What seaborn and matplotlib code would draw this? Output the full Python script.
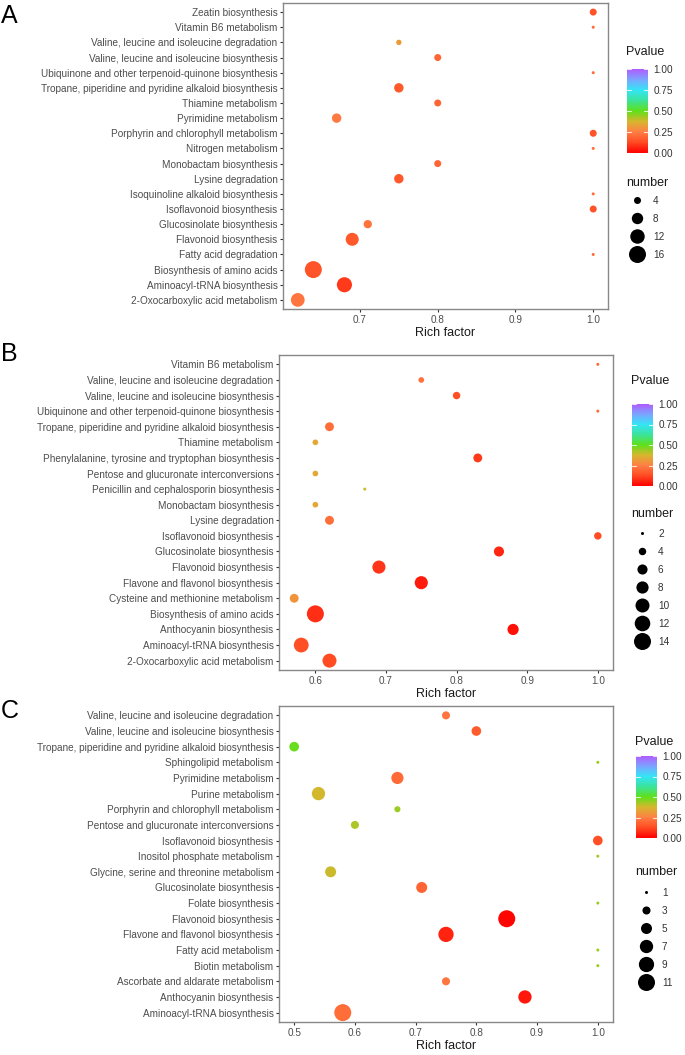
import numpy as np
import pandas as pd
import seaborn as sns
import matplotlib.pyplot as plt
from matplotlib.colors import LinearSegmentedColormap, Normalize
from matplotlib.cm import ScalarMappable
from matplotlib.lines import Line2D
from matplotlib.ticker import MultipleLocator, FormatStrFormatter

# ---- panel A (alphabetical = bottom to top) ----
a_path = ['2-Oxocarboxylic acid metabolism', 'Aminoacyl-tRNA biosynthesis',
          'Biosynthesis of amino acids', 'Fatty acid degradation',
          'Flavonoid biosynthesis', 'Glucosinolate biosynthesis',
          'Isoflavonoid biosynthesis', 'Isoquinoline alkaloid biosynthesis',
          'Lysine degradation', 'Monobactam biosynthesis', 'Nitrogen metabolism',
          'Porphyrin and chlorophyll metabolism', 'Pyrimidine metabolism',
          'Thiamine metabolism', 'Tropane, piperidine and pyridine alkaloid biosynthesis',
          'Ubiquinone and other terpenoid-quinone biosynthesis',
          'Valine, leucine and isoleucine biosynthesis',
          'Valine, leucine and isoleucine degradation', 'Vitamin B6 metabolism',
          'Zeatin biosynthesis']
a_rich = [0.62, 0.68, 0.64, 1.0, 0.69, 0.71, 1.0, 1.0, 0.75, 0.80,
          1.0, 1.0, 0.67, 0.80, 0.75, 1.0, 0.80, 0.75, 1.0, 1.0]
a_num = [11, 13, 16, 2, 10, 5, 4, 2, 6, 4, 2, 4, 6, 4, 6, 2, 4, 3, 2, 4]
a_pval = [0.23, 0.10, 0.15, 0.20, 0.16, 0.22, 0.15, 0.20, 0.16, 0.19,
          0.20, 0.15, 0.24, 0.19, 0.16, 0.20, 0.19, 0.31, 0.20, 0.15]
a_breaks = [4, 8, 12, 16]

# ---- panel B ----
b_path = ['2-Oxocarboxylic acid metabolism', 'Aminoacyl-tRNA biosynthesis',
          'Anthocyanin biosynthesis', 'Biosynthesis of amino acids',
          'Cysteine and methionine metabolism', 'Flavone and flavonol biosynthesis',
          'Flavonoid biosynthesis', 'Glucosinolate biosynthesis',
          'Isoflavonoid biosynthesis', 'Lysine degradation', 'Monobactam biosynthesis',
          'Penicillin and cephalosporin biosynthesis',
          'Pentose and glucuronate interconversions',
          'Phenylalanine, tyrosine and tryptophan biosynthesis', 'Thiamine metabolism',
          'Tropane, piperidine and pyridine alkaloid biosynthesis',
          'Ubiquinone and other terpenoid-quinone biosynthesis',
          'Valine, leucine and isoleucine biosynthesis',
          'Valine, leucine and isoleucine degradation', 'Vitamin B6 metabolism']
b_rich = [0.62, 0.58, 0.88, 0.60, 0.57, 0.75, 0.69, 0.86, 1.0, 0.62,
          0.60, 0.67, 0.60, 0.83, 0.60, 0.62, 1.0, 0.80, 0.75, 1.0]
b_num = [10, 11, 7, 14, 5, 9, 9, 6, 4, 5, 3, 2, 3, 5, 3, 5, 2, 4, 3, 2]
b_pval = [0.13, 0.14, 0.03, 0.08, 0.30, 0.05, 0.09, 0.07, 0.13, 0.21,
          0.34, 0.38, 0.34, 0.10, 0.34, 0.21, 0.20, 0.14, 0.22, 0.20]
b_breaks = [2, 4, 6, 8, 10, 12, 14]

# ---- panel C ----
c_path = ['Aminoacyl-tRNA biosynthesis', 'Anthocyanin biosynthesis',
          'Ascorbate and aldarate metabolism', 'Biotin metabolism',
          'Fatty acid metabolism', 'Flavone and flavonol biosynthesis',
          'Flavonoid biosynthesis', 'Folate biosynthesis', 'Glucosinolate biosynthesis',
          'Glycine, serine and threonine metabolism', 'Inositol phosphate metabolism',
          'Isoflavonoid biosynthesis', 'Pentose and glucuronate interconversions',
          'Porphyrin and chlorophyll metabolism', 'Purine metabolism',
          'Pyrimidine metabolism', 'Sphingolipid metabolism',
          'Tropane, piperidine and pyridine alkaloid biosynthesis',
          'Valine, leucine and isoleucine biosynthesis',
          'Valine, leucine and isoleucine degradation']
c_rich = [0.58, 0.88, 0.75, 1.0, 1.0, 0.75, 0.85, 1.0, 0.71, 0.56,
          1.0, 1.0, 0.60, 0.67, 0.54, 0.67, 1.0, 0.50, 0.80, 0.75]
c_num = [11, 7, 3, 1, 1, 9, 11, 1, 5, 5, 1, 4, 3, 2, 7, 6, 1, 4, 4, 3]
c_pval = [0.21, 0.04, 0.23, 0.44, 0.44, 0.06, 0.01, 0.44, 0.19, 0.39,
          0.44, 0.14, 0.42, 0.44, 0.38, 0.20, 0.44, 0.49, 0.17, 0.23]
c_breaks = [1, 3, 5, 7, 9, 11]

pv_ticks = [0.0, 0.25, 0.5, 0.75, 1.0]

sns.set_theme(style="white")
plt.rcParams['font.family'] = ['Liberation Sans', 'DejaVu Sans']

cmap = LinearSegmentedColormap.from_list(
    'pv', [(0, '#FF0000'), (0.125, '#FF4A22'), (0.25, '#FF7F45'), (0.375, '#D8B62E'),
           (0.5, '#5FE01A'), (0.625, '#3BE39A'), (0.75, '#33E5F5'),
           (0.875, '#7AA6FF'), (1, '#B05CFF')])
norm = Normalize(0, 1)

W, H = 685, 1055
SMIN, SMAX = (3 * 0.72) ** 2, (17 * 0.72) ** 2

fig = plt.figure(figsize=(W / 100, H / 100), dpi=100)


def fx(px):
    return px / W


def fy(py):
    return 1 - py / H


# axes box (left, right, top, bottom px), legend anchors
panels = [
    dict(letter='A', path=a_path, rich=a_rich, num=a_num, pval=a_pval, breaks=a_breaks,
         box=(283, 608, 3, 309), bar=(627, 69, 153), title_y=52, num_y=183, first_y=202,
         letter_y=16),
    dict(letter='B', path=b_path, rich=b_rich, num=b_num, pval=b_pval, breaks=b_breaks,
         box=(279, 613, 355, 670), bar=(632, 404, 486), title_y=381, num_y=514, first_y=535,
         letter_y=354),
    dict(letter='C', path=c_path, rich=c_rich, num=c_num, pval=c_pval, breaks=c_breaks,
         box=(279, 613, 706, 1022), bar=(636, 756, 838), title_y=742, num_y=872, first_y=894,
         letter_y=711),
]

for p in panels:
    l, r, t, b = p['box']
    ax = fig.add_axes([fx(l), fy(b), fx(r - l), (b - t) / H])
    df = pd.DataFrame({'Pathway': p['path'], 'Rich factor': p['rich'],
                       'number': p['num'], 'Pvalue': p['pval']})
    lo, hi = min(p['num']), max(p['num'])
    sns.scatterplot(data=df, x='Rich factor', y='Pathway', hue='Pvalue', size='number',
                    palette=cmap, hue_norm=norm, sizes=(SMIN, SMAX), size_norm=(lo, hi),
                    linewidth=0, edgecolor='none', legend=False, ax=ax, zorder=3)
    xr = max(p['rich']) - min(p['rich'])
    ax.set_xlim(min(p['rich']) - 0.05 * xr, max(p['rich']) + 0.05 * xr)
    ax.set_ylim(-0.6, len(p['path']) - 0.4)
    ax.xaxis.set_major_locator(MultipleLocator(0.1))
    ax.xaxis.set_major_formatter(FormatStrFormatter('%.1f'))
    ax.set_ylabel('')
    ax.set_xlabel('Rich factor', fontsize=9, color='#1A1A1A', labelpad=1.5)
    ax.tick_params(axis='both', length=2.5, width=0.8, color='#333333',
                   labelsize=7.2, labelcolor='#4D4D4D', pad=1.5,
                   bottom=True, left=True)
    for s in ax.spines.values():
        s.set_color('#888888')
        s.set_linewidth(1.0)

    fig.text(fx(1), fy(p['letter_y']), p['letter'], fontsize=18, ha='left',
             va='center', color='black')

    # colour bar legend
    bx, btop, bbot = p['bar']
    cax = fig.add_axes([fx(bx), fy(bbot), fx(21), (bbot - btop) / H])
    cb = fig.colorbar(ScalarMappable(norm=norm, cmap=cmap), cax=cax)
    cb.outline.set_visible(False)
    cb.set_ticks(pv_ticks)
    cb.ax.yaxis.set_major_formatter(FormatStrFormatter('%.2f'))
    cb.ax.tick_params(length=0, labelsize=7.2, labelcolor='#333333', pad=4)
    for v in pv_ticks:
        cax.axhline(v, xmin=0, xmax=0.2, color='white', lw=0.8, alpha=0.8)
        cax.axhline(v, xmin=0.8, xmax=1, color='white', lw=0.8, alpha=0.8)
    fig.text(fx(bx - 1), fy(p['title_y']), 'Pvalue', fontsize=9, ha='left',
             va='center', color='#1A1A1A')

    # size legend
    fig.text(fx(bx - 1), fy(p['num_y']), 'number', fontsize=9, ha='left',
             va='center', color='#1A1A1A')
    handles = []
    for v in p['breaks']:
        s = SMIN + (SMAX - SMIN) * (v - lo) / (hi - lo)
        handles.append(Line2D([], [], marker='o', linestyle='', markersize=np.sqrt(s),
                              markerfacecolor='black', markeredgewidth=0, color='black'))
    fs = 7.2
    fig.legend(handles, [str(v) for v in p['breaks']], loc='upper left',
               bbox_to_anchor=(fx(bx), fy(p['first_y'] - 7)), frameon=False,
               fontsize=fs, borderpad=0, labelspacing=0.65, handleheight=1.4,
               handlelength=2.0, handletextpad=0.6, borderaxespad=0,
               labelcolor='#333333')

fig.savefig('out.png', dpi=100)
